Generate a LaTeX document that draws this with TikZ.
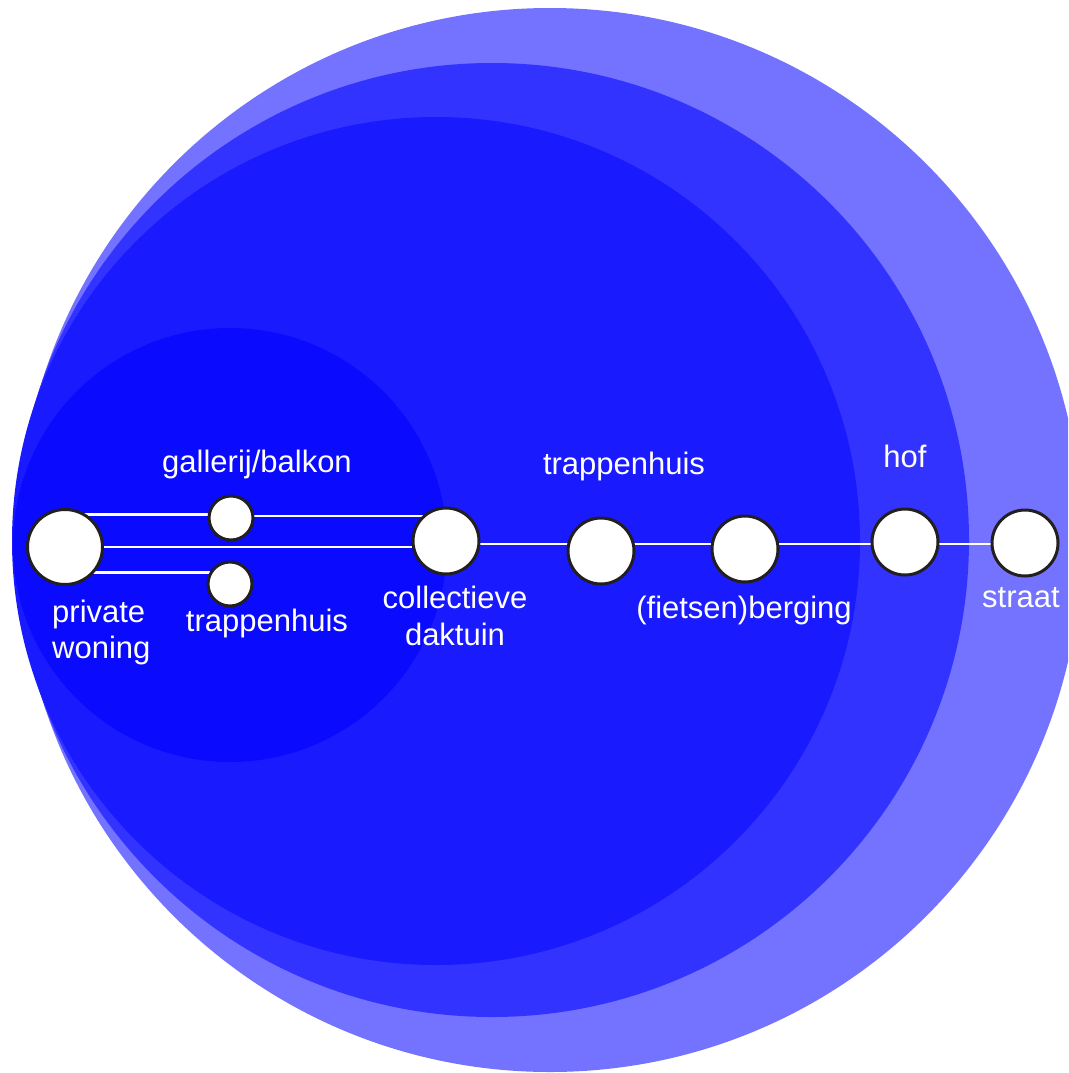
\documentclass[tikz,border=0pt]{standalone}
\usepackage{fontspec}
\setmainfont{Liberation Sans}
\definecolor{zoneA}{HTML}{7373FF}
\definecolor{zoneB}{HTML}{3333FF}
\definecolor{zoneC}{HTML}{1A1AFF}
\definecolor{zoneD}{HTML}{0A0AFF}
\definecolor{rim}{HTML}{231F20}
\pgfdeclarelayer{bg}
\pgfdeclarelayer{edges}
\pgfsetlayers{bg,edges,main}
\tikzset{
  place/.style={circle, draw=rim, fill=white, line width=3pt, inner sep=0pt, minimum size=66pt},
  bigplace/.style={place, minimum size=75pt},
  smallplace/.style={place, minimum size=44pt},
  link/.style={draw=white, line width=2.5pt},
  lbl/.style={text=white, inner sep=0pt, font=\fontsize{31}{36}\selectfont},
}
\begin{document}
\begin{tikzpicture}[x=1pt,y=-1pt]
\useasboundingbox (0,0) rectangle (1068,1073);
\begin{pgfonlayer}{bg}
\begin{scope}
\clip (0,0) rectangle (1068,1073);
\fill[zoneA] (550,540) circle [radius=532pt];
\fill[zoneB] (492,540) circle [radius=477pt];
\fill[zoneC] (436,541) circle [radius=424pt];
\fill[zoneD] (230,545) circle [radius=217pt];
\end{scope}
\end{pgfonlayer}

% places
\node[bigplace]   (pw)  at (65,547)  {};
\node[smallplace] (gb)  at (231,518) {};
\node[smallplace] (tr1) at (230,584) {};
\node[place]      (col) at (446,541) {};
\node[place]      (tr2) at (601,551) {};
\node[place]      (berg) at (745,549) {};
\node[place]      (hof) at (905,542) {};
\node[place]      (str) at (1025,543) {};
\coordinate (axis) at (0,544);

% connectors
\begin{pgfonlayer}{edges}
\draw[link] (gb.172 -| pw.center) -- (gb.172);
\draw[link] (gb.5) -- (gb.5 -| col.center);
\draw[link] (pw.center) -- (pw.center -| col.center);
\draw[link] (tr1.150 -| pw.center) -- (tr1.150);
\draw[link] (col |- axis) -- (tr2 |- axis);
\draw[link] (tr2 |- axis) -- (berg |- axis);
\draw[link] (berg |- axis) -- (hof |- axis);
\draw[link] (hof |- axis) -- (str |- axis);
\end{pgfonlayer}

% labels
\node[lbl, anchor=base west] (pwl) at (52,622) {\begin{tabular}[t]{@{}l@{}}private\\woning\end{tabular}};
\node[lbl, anchor=base] (gbl) at (257,472) {gallerij/balkon};
\node[lbl, anchor=base] (tr1l) at (267,631) {trappenhuis};
\node[lbl, anchor=base, font=\fontsize{31}{37}\selectfont] (coll) at (455,608) {\begin{tabular}[t]{@{}c@{}}collectieve\\daktuin\end{tabular}};
\node[lbl, anchor=base] (tr2l) at (624,474) {trappenhuis};
\node[lbl, anchor=base] (bergl) at (744,618) {(fietsen)berging};
\node[lbl, anchor=base] (hofl) at (905,467) {hof};
\node[lbl, anchor=base] (strl) at (1021,607) {straat};
\end{tikzpicture}
\end{document}
